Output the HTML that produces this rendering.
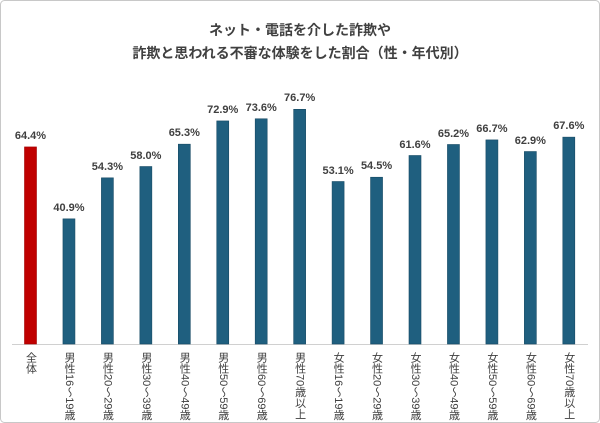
<!DOCTYPE html>
<html><head><meta charset="utf-8"><style>
html,body{margin:0;padding:0;background:#fff}
svg{display:block}
text{font-family:"Liberation Sans","Noto Sans CJK JP",sans-serif}
.v{font-size:11px;font-weight:bold;fill:#404040;text-anchor:middle}
.l{font-size:11px;fill:#404040;writing-mode:vertical-rl}
</style></head><body>
<svg width="600" height="423" viewBox="0 0 600 423" xmlns="http://www.w3.org/2000/svg">
<rect x="0.5" y="0.5" width="599" height="422" rx="4" fill="#fff" stroke="#c8c8c8"/>
<text x="300" y="35" text-anchor="middle" font-size="14" font-weight="bold" fill="#404040">ネット・電話を介した詐欺や</text>
<text x="300" y="58" text-anchor="middle" font-size="14" font-weight="bold" fill="#404040">詐欺と思われる不審な体験をした割合（性・年代別）</text>
<line x1="12" y1="344.5" x2="588" y2="344.5" stroke="#d0d0d0" stroke-width="1"/>
<g fill="#1f5f7f" stroke="#174a64" stroke-width="0.6">
<rect x="24.5" y="146.94" width="12" height="197.06" fill="#c00000" stroke="#a00000"/>
<rect x="62.95" y="218.85" width="12" height="125.15"/>
<rect x="101.4" y="177.84" width="12" height="166.16"/>
<rect x="139.85" y="166.52" width="12" height="177.48"/>
<rect x="178.3" y="144.18" width="12" height="199.82"/>
<rect x="216.75" y="120.93" width="12" height="223.07"/>
<rect x="255.2" y="118.78" width="12" height="225.22"/>
<rect x="293.65" y="109.3" width="12" height="234.7"/>
<rect x="332.1" y="181.51" width="12" height="162.49"/>
<rect x="370.55" y="177.23" width="12" height="166.77"/>
<rect x="409" y="155.5" width="12" height="188.5"/>
<rect x="447.45" y="144.49" width="12" height="199.51"/>
<rect x="485.9" y="139.9" width="12" height="204.1"/>
<rect x="524.35" y="151.53" width="12" height="192.47"/>
<rect x="562.8" y="137.14" width="12" height="206.86"/>
</g>
<text class="v" x="30.5" y="139">64.4%</text>
<text class="v" x="68.95" y="211">40.9%</text>
<text class="v" x="107.4" y="170">54.3%</text>
<text class="v" x="145.85" y="159">58.0%</text>
<text class="v" x="184.3" y="136">65.3%</text>
<text class="v" x="222.75" y="113">72.9%</text>
<text class="v" x="261.2" y="111">73.6%</text>
<text class="v" x="299.65" y="101">76.7%</text>
<text class="v" x="338.1" y="174">53.1%</text>
<text class="v" x="376.55" y="169">54.5%</text>
<text class="v" x="415" y="148">61.6%</text>
<text class="v" x="453.45" y="137">65.2%</text>
<text class="v" x="491.9" y="132">66.7%</text>
<text class="v" x="530.35" y="144">62.9%</text>
<text class="v" x="568.8" y="129">67.6%</text>
<text class="l" x="30.5" y="352">全体</text>
<text class="l" x="68.95" y="352">男性16～19歳</text>
<text class="l" x="107.4" y="352">男性20～29歳</text>
<text class="l" x="145.85" y="352">男性30～39歳</text>
<text class="l" x="184.3" y="352">男性40～49歳</text>
<text class="l" x="222.75" y="352">男性50～59歳</text>
<text class="l" x="261.2" y="352">男性60～69歳</text>
<text class="l" x="299.65" y="352">男性70歳以上</text>
<text class="l" x="338.1" y="352">女性16～19歳</text>
<text class="l" x="376.55" y="352">女性20～29歳</text>
<text class="l" x="415" y="352">女性30～39歳</text>
<text class="l" x="453.45" y="352">女性40～49歳</text>
<text class="l" x="491.9" y="352">女性50～59歳</text>
<text class="l" x="530.35" y="352">女性60～69歳</text>
<text class="l" x="568.8" y="352">女性70歳以上</text>
</svg>
</body></html>
